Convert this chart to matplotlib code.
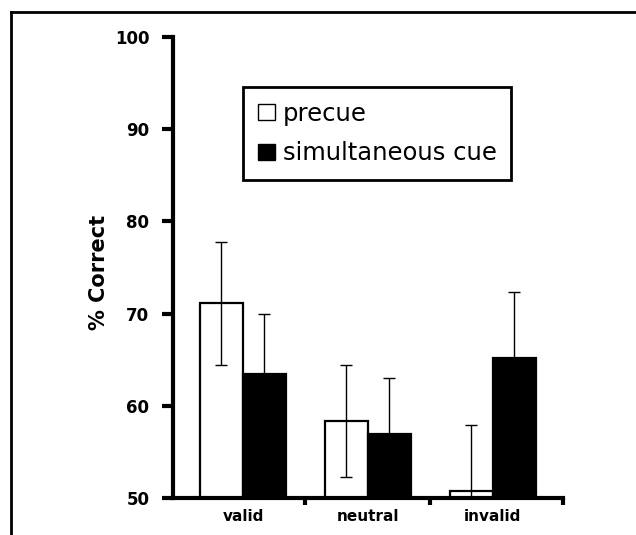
import numpy as np
import matplotlib
matplotlib.use("Agg")
import matplotlib.pyplot as plt
from matplotlib.lines import Line2D

categories = ["valid", "neutral", "invalid"]
precue = [71.1, 58.35, 50.8]
precue_err = [6.7, 6.1, 7.1]
simultaneous = [63.4, 57.0, 65.2]
simultaneous_err = [6.6, 6.0, 7.1]
series_labels = ["precue", "simultaneous cue"]
yticks = [50, 60, 70, 80, 90, 100]

fig = plt.figure(figsize=(6.36, 5.35), dpi=100)
ax = fig.add_axes([0.272, 0.069, 0.613, 0.862])

x = np.arange(len(categories))
w = 0.344
ax.bar(x - w / 2, precue, w, color="white", edgecolor="black",
       linewidth=1.6, label=series_labels[0], zorder=2)
ax.bar(x + w / 2, simultaneous, w, color="black", edgecolor="black",
       linewidth=1.6, label=series_labels[1], zorder=2)
ax.errorbar(x - w / 2, precue, yerr=precue_err, fmt="none", ecolor="black",
            elinewidth=1, capsize=4, capthick=1, zorder=3)
ax.errorbar(x + w / 2, simultaneous, yerr=simultaneous_err, fmt="none",
            ecolor="black", elinewidth=1, capsize=4, capthick=1, zorder=1)

ax.set_ylim(50, 100)
ax.set_xlim(-0.56, 2.56)
ax.set_yticks(yticks)
ax.set_yticklabels([str(t) for t in yticks], fontsize=12, fontweight="bold")
ax.set_xticks(x)
ax.set_xticklabels(categories, fontsize=11, fontweight="bold")
ax.tick_params(axis="x", length=0, pad=8)
ax.set_xticks([0.5, 1.5, 2.56], minor=True)
ax.tick_params(axis="x", which="minor", length=5, width=3, direction="out")
ax.tick_params(axis="y", length=8, width=3, direction="out", pad=9)
ax.set_ylabel("% Correct", fontsize=15, fontweight="bold")
ax.yaxis.set_label_coords(-0.165, 0.49)

for s in ["top", "right"]:
    ax.spines[s].set_visible(False)
for s in ["left", "bottom"]:
    ax.spines[s].set_linewidth(3)

leg = ax.legend(loc="upper left", bbox_to_anchor=(243 / 636, 1 - 87 / 535),
                bbox_transform=fig.transFigure, frameon=True, fancybox=False,
                framealpha=1, fontsize=17.5, handlelength=0.7, handleheight=0.65,
                handletextpad=0.33, borderpad=0.6, labelspacing=0.65,
                borderaxespad=0)
leg.get_frame().set_edgecolor("black")
leg.get_frame().set_linewidth(2)
for h in leg.legend_handles:
    h.set_linewidth(1)

# outer frame (cut off at right and bottom)
fig.add_artist(Line2D([11 / 636, 11 / 636], [0, 1 - 12 / 535], color="black", lw=2))
fig.add_artist(Line2D([11 / 636, 1], [1 - 12 / 535, 1 - 12 / 535], color="black", lw=2))

fig.savefig("out.png", dpi=100)
